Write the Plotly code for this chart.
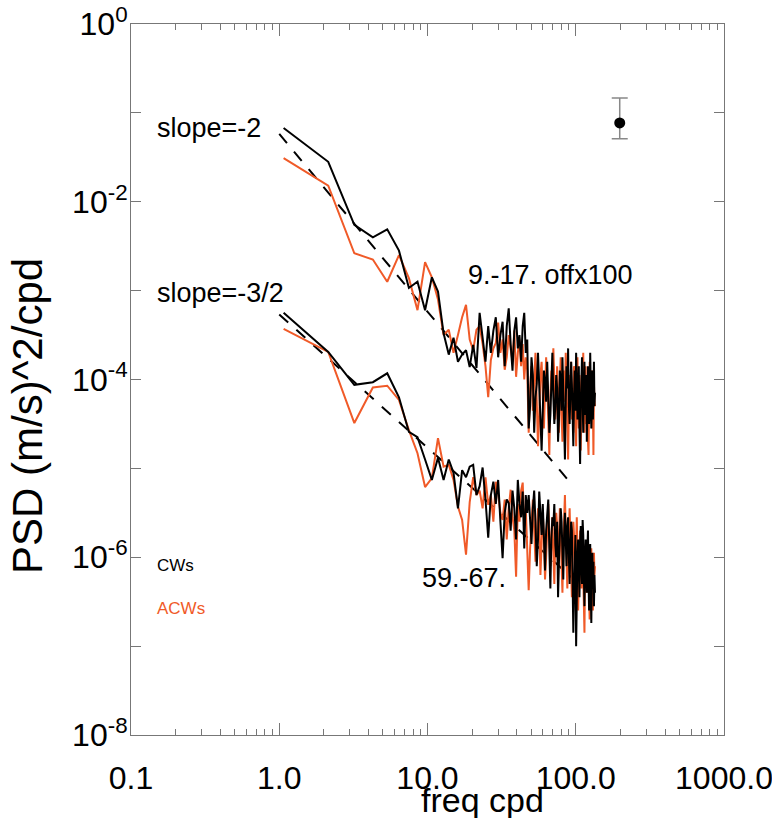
import plotly.graph_objects as go

# frequency grid (cycles per day), evenly spaced
df_cpd = 1.07
freq = [round(df_cpd * k, 3) for k in range(1, 127)]

# log10 PSD values
cw_upper_log = [
    -1.17, -1.55, -2.26, -2.40, -2.31, -2.55, -2.97, -2.90, -3.22, -2.85,
    -3.01, -3.48, -3.72, -3.53, -3.80, -3.72, -3.67, -3.86, -3.61, -3.87,
    -3.25, -3.55, -3.80, -3.40, -3.70, -3.45, -3.30, -3.75, -3.50, -3.35,
    -3.85, -3.40, -3.20, -3.60, -3.90, -3.45, -3.30, -3.65, -3.50, -3.80,
    -3.40, -3.25, -3.70, -3.55,
    -4.55, -4.30, -3.75, -3.95, -4.60, -4.20, -4.05, -3.70, -4.10, -4.45,
    -4.80, -4.35, -3.90, -4.00, -4.25, -3.80, -4.15, -4.60, -4.40, -3.85,
    -3.70, -4.20, -4.50, -4.30, -3.95, -4.10, -4.70, -4.45, -3.90, -4.00,
    -4.35, -3.75, -4.05, -4.55, -4.90, -4.25, -3.85, -4.10, -3.65, -4.30,
    -4.50, -4.15, -3.80, -4.05, -4.60, -4.75, -4.20, -3.90, -4.35, -3.70,
    -4.00, -4.45, -4.20, -3.85, -4.55, -4.95, -4.30, -4.00, -3.75, -4.25,
    -4.60, -4.10, -3.80, -4.40, -4.15, -3.95, -4.70, -4.35, -3.85, -4.05,
    -4.50, -4.25, -3.70, -4.10, -4.55, -4.30, -3.90, -4.45, -4.05, -3.80,
    -4.30, -4.15,
]
acw_upper_log = [
    -1.51, -1.82, -2.58, -2.65, -2.90, -2.60, -2.86, -3.22, -2.68, -2.85,
    -3.10, -3.50, -3.44, -3.70, -3.50, -3.30, -3.16, -3.55, -3.67, -3.44,
    -3.40, -3.60, -3.85, -4.20, -3.78, -3.65, -3.59, -3.36, -3.70, -3.55,
    -3.89, -3.75, -3.50, -3.63, -3.80, -3.45, -3.97, -3.70, -3.55, -3.85,
    -3.60, -4.00, -3.75, -3.90,
    -4.60, -4.10, -3.85, -4.35, -4.05, -3.70, -4.25, -4.75, -4.40, -3.95,
    -3.80, -4.30, -4.55, -4.15, -3.75, -4.05, -4.65, -4.85, -4.20, -3.90,
    -4.10, -3.65, -4.00, -4.45, -4.30, -3.85, -4.20, -4.60, -4.05, -3.75,
    -4.40, -4.70, -4.15, -3.90, -4.25, -3.70, -4.05, -4.50, -4.90, -4.30,
    -3.95, -4.15, -3.80, -4.45, -4.20, -4.60, -3.85, -4.00, -4.35, -4.75,
    -4.10, -3.75, -4.30, -4.55, -3.95, -4.20, -4.80, -4.40, -3.90, -4.05,
    -3.70, -4.35, -4.60, -4.15, -3.85, -4.50, -4.25, -3.95, -4.70, -4.85,
    -4.20, -3.80, -4.10, -4.45, -4.00, -3.90, -4.55, -4.30, -4.85, -4.05,
    -4.25, -4.30,
]
cw_lower_log = [
    -3.25, -3.69, -4.06, -4.03, -3.93, -4.20, -4.59, -4.65, -4.90, -5.13,
    -4.88, -5.13, -4.90, -5.05, -5.45, -5.02, -5.10, -4.98, -4.96, -5.30,
    -5.20, -4.99, -5.35, -5.78, -5.30, -5.15, -5.40, -5.13, -5.60, -6.01,
    -5.50, -5.35, -5.39, -5.70, -5.25, -5.45, -5.80, -5.13, -5.40, -5.55,
    -5.26, -5.90, -5.30, -5.50,
    -5.30, -5.55, -5.85, -5.45, -5.25, -5.60, -6.10, -5.80, -5.26, -5.50,
    -5.75, -5.40, -5.95, -6.15, -5.70, -5.45, -5.35, -5.90, -6.35, -5.80,
    -5.55, -5.65, -5.40, -5.85, -6.00, -5.60, -6.45, -6.05, -5.70, -5.45,
    -5.60, -5.95, -6.25, -5.75, -5.50, -5.80, -6.10, -5.65, -5.55, -6.00,
    -6.30, -5.85, -5.60, -5.70, -6.15, -6.85, -6.40, -5.90, -5.75, -7.00,
    -6.35, -5.95, -5.80, -6.10, -6.45, -5.85, -5.65, -6.05, -6.30, -5.58,
    -5.75, -6.20, -6.55, -6.00, -5.80, -6.15, -6.40, -5.90, -5.70, -6.25,
    -6.60, -6.10, -5.85, -6.30, -6.74, -6.20, -5.95, -6.35, -6.05, -6.55,
    -6.20, -6.40,
]
acw_lower_log = [
    -3.43, -3.69, -4.49, -4.09, -4.07, -4.23, -4.57, -4.83, -5.21, -5.11,
    -4.66, -4.98, -4.96, -5.13, -5.43, -5.58, -5.97, -5.38, -5.10, -5.30,
    -5.25, -5.45, -5.10, -5.41, -5.30, -5.60, -5.15, -5.28, -5.50, -5.58,
    -5.35, -5.80, -5.45, -5.24, -5.55, -5.70, -6.22, -5.40, -5.60, -5.25,
    -5.16, -5.65, -5.45, -5.90,
    -6.37, -5.90, -5.55, -5.35, -5.70, -6.05, -5.80, -5.45, -5.60, -6.20,
    -5.85, -5.50, -5.75, -6.25, -6.00, -5.65, -5.40, -5.70, -6.10, -5.85,
    -5.55, -5.95, -6.30, -5.80, -5.50, -5.65, -6.15, -5.90, -5.45, -5.75,
    -6.05, -6.40, -5.85, -5.60, -5.30, -5.70, -6.00, -6.35, -5.95, -5.65,
    -5.45, -5.80, -6.20, -6.45, -5.90, -5.60, -5.75, -6.10, -6.30, -5.85,
    -5.55, -6.00, -6.60, -6.25, -5.80, -5.70, -6.05, -6.35, -6.15, -5.90,
    -6.20, -6.50, -6.85, -6.10, -5.85, -6.00, -6.40, -6.25, -5.95, -6.15,
    -6.45, -6.70, -6.30, -6.05, -5.90, -6.20, -6.45, -6.60, -6.10, -5.95,
    -6.20, -6.10,
]

# reference slope lines (end points)
slope_freq = [1.0, 88.0]
slope2_psd = [5.8e-2, 7.5e-6]
slope32_freq = [1.0, 95.0]
slope32_psd = [5.4e-4, 5.83e-7]

# error bar sample
err_freq = [198.0]
err_psd = [0.077]
err_plus = [0.070]
err_minus = [0.026]

x_tickvals = [0.1, 1, 10, 100, 1000]
x_ticktext = ["0.1", "1.0", "10.0", "100.0", "1000.0"]
y_tickvals = [1e0, 1e-1, 1e-2, 1e-3, 1e-4, 1e-5, 1e-6, 1e-7, 1e-8]
y_ticktext = ["10<sup>0</sup>", "", "10<sup>-2</sup>", "", "10<sup>-4</sup>", "",
              "10<sup>-6</sup>", "", "10<sup>-8</sup>"]

BLACK = "#000000"
ORANGE = "#F05A28"

def p(vals):
    return [10 ** v for v in vals]

fig = go.Figure()
fig.add_trace(go.Scatter(x=slope_freq, y=slope2_psd, mode="lines",
                         line=dict(color=BLACK, width=2, dash="12px,11px")))
fig.add_trace(go.Scatter(x=slope32_freq, y=slope32_psd, mode="lines",
                         line=dict(color=BLACK, width=2, dash="12px,11px")))
fig.add_trace(go.Scatter(x=freq, y=p(acw_upper_log), mode="lines",
                         line=dict(color=ORANGE, width=2)))
fig.add_trace(go.Scatter(x=freq, y=p(cw_upper_log), mode="lines",
                         line=dict(color=BLACK, width=2)))
fig.add_trace(go.Scatter(x=freq, y=p(acw_lower_log), mode="lines",
                         line=dict(color=ORANGE, width=2)))
fig.add_trace(go.Scatter(x=freq, y=p(cw_lower_log), mode="lines",
                         line=dict(color=BLACK, width=2)))
fig.add_trace(go.Scatter(x=err_freq, y=err_psd, mode="markers",
                         marker=dict(color=BLACK, size=11),
                         error_y=dict(type="data", symmetric=False, array=err_plus,
                                      arrayminus=err_minus, color="#888888",
                                      thickness=1.5, width=8)))

FONT = "Liberation Sans, Arial, sans-serif"
ann_font = dict(family=FONT, size=27, color=BLACK)
def ypap(px):
    return (735 - px) / 711
def xpap(px):
    return (px - 131) / 593

fig.add_annotation(x=xpap(155), y=ypap(128), xref="paper", yref="paper", text="slope=-2",
                   showarrow=False, xanchor="left", yanchor="middle", font=ann_font)
fig.add_annotation(x=xpap(155), y=ypap(293), xref="paper", yref="paper", text="slope=-3/2",
                   showarrow=False, xanchor="left", yanchor="middle", font=ann_font)
fig.add_annotation(x=xpap(466), y=ypap(275), xref="paper", yref="paper", text="9.-17. offx100",
                   showarrow=False, xanchor="left", yanchor="middle", font=ann_font)
fig.add_annotation(x=xpap(420), y=ypap(578), xref="paper", yref="paper", text="59.-67.",
                   showarrow=False, xanchor="left", yanchor="middle", font=ann_font)
fig.add_annotation(x=xpap(155), y=ypap(565), xref="paper", yref="paper", text="CWs",
                   showarrow=False, xanchor="left", yanchor="middle",
                   font=dict(family=FONT, size=17, color=BLACK))
fig.add_annotation(x=xpap(155), y=ypap(608), xref="paper", yref="paper", text="ACWs",
                   showarrow=False, xanchor="left", yanchor="middle",
                   font=dict(family=FONT, size=17, color=ORANGE))
# axis titles
fig.add_annotation(x=xpap(27), y=ypap(416), xref="paper", yref="paper",
                   text="PSD (m/s)^2/cpd", textangle=-90, showarrow=False,
                   xanchor="center", yanchor="middle",
                   font=dict(family=FONT, size=42, color=BLACK))
fig.add_annotation(x=xpap(482), y=ypap(800), xref="paper", yref="paper",
                   text="freq cpd", showarrow=False, xanchor="center", yanchor="middle",
                   font=dict(family=FONT, size=34, color=BLACK))

axis_common = dict(showgrid=False, zeroline=False, showline=True, linecolor="#777777",
                   linewidth=1, mirror="allticks", ticks="inside", tickcolor="#777777",
                   automargin=False)
fig.update_xaxes(type="log", range=[-1, 3], tickvals=x_tickvals, ticktext=x_ticktext,
                 ticklen=12, tickfont=dict(family=FONT, size=32, color=BLACK),
                 ticklabelstandoff=15, ticklabeloverflow="allow",
                 minor=dict(ticks="inside", ticklen=6, tickcolor="#777777",
                            dtick="D1", showgrid=False),
                 **axis_common)
fig.update_yaxes(type="log", range=[-8, 0], tickvals=y_tickvals, ticktext=y_ticktext,
                 ticklen=10, tickfont=dict(family=FONT, size=32, color=BLACK),
                 ticklabelstandoff=-4, ticklabeloverflow="allow",
                 **axis_common)
fig.update_layout(width=772, height=818, showlegend=False,
                  margin=dict(l=131, r=48, t=24, b=83),
                  plot_bgcolor="white", paper_bgcolor="white")
fig.write_html("out.html")
